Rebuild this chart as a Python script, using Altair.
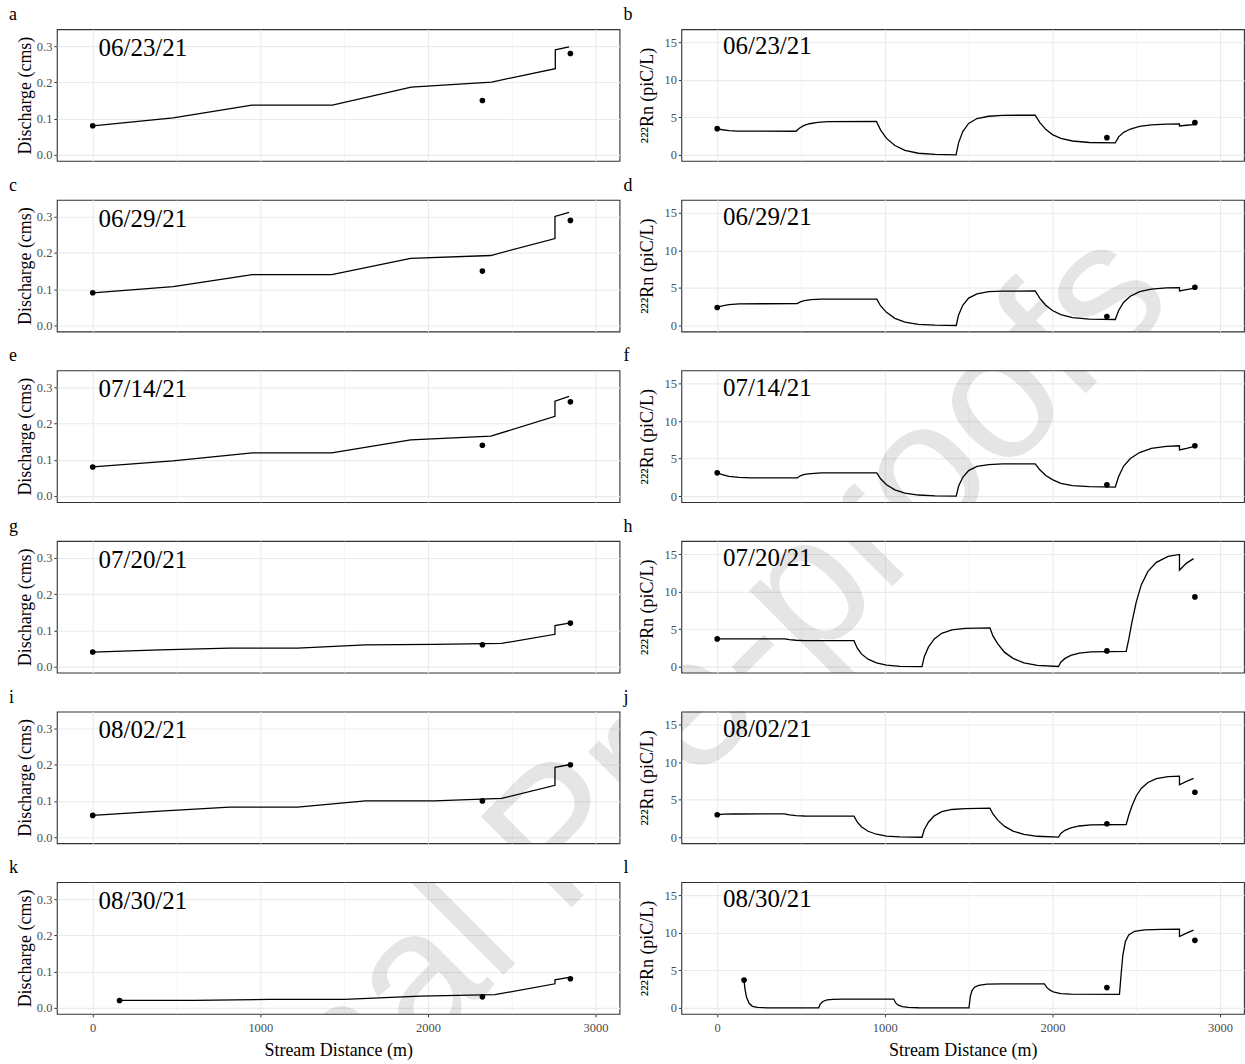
import altair as alt
import pandas as pd

FONT = "Liberation Serif"

dates = ["06/23/21", "06/29/21", "07/14/21", "07/20/21", "08/02/21", "08/30/21"]
q_letters = ["a", "c", "e", "g", "i", "k"]
rn_letters = ["b", "d", "f", "h", "j", "l"]
watermark = "Journal Pre-proofs"

# ---------------- Discharge: modelled line ----------------
q_x_a = [0, 480, 950, 1430, 1900, 2380, 2760, 2760, 2842]
q_y_a = [0.080, 0.102, 0.137, 0.137, 0.187, 0.201, 0.238, 0.290, 0.298]
q_x_c = [0, 480, 952, 1426, 1897, 2375, 2758, 2758, 2842]
q_y_c = [0.090, 0.107, 0.140, 0.140, 0.185, 0.193, 0.240, 0.301, 0.312]
q_x_e = [0, 478, 952, 1426, 1897, 2375, 2758, 2758, 2842]
q_y_e = [0.080, 0.097, 0.119, 0.119, 0.155, 0.165, 0.220, 0.262, 0.275]
q_x_g = [0, 402, 816, 1222, 1627, 2036, 2440, 2758, 2758, 2842]
q_y_g = [0.040, 0.046, 0.051, 0.051, 0.060, 0.061, 0.064, 0.089, 0.113, 0.120]
q_x_i = [0, 402, 816, 1222, 1627, 2036, 2440, 2758, 2758, 2842]
q_y_i = [0.060, 0.072, 0.083, 0.083, 0.100, 0.100, 0.107, 0.143, 0.193, 0.200]
q_x_k = [160, 605, 1053, 1502, 1952, 2400, 2758, 2758, 2842]
q_y_k = [0.020, 0.020, 0.023, 0.023, 0.032, 0.036, 0.066, 0.077, 0.084]

# ---------------- Discharge: observations ----------------
obs_x = [0, 2325, 2850]
obs_x_last = [160, 2325, 2850]
q_obs = [
    [0.08, 0.15, 0.28],
    [0.09, 0.15, 0.29],
    [0.08, 0.14, 0.26],
    [0.04, 0.06, 0.12],
    [0.06, 0.10, 0.20],
    [0.02, 0.03, 0.08],
]

# ---------------- Radon: modelled line ----------------
rn_x_b = [0, 30, 70, 120, 470, 490, 515, 550, 600, 660, 950, 975, 1010, 1060, 1120, 1200, 1300, 1425,
          1440, 1465, 1500, 1550, 1620, 1700, 1897, 1925, 1960, 2000, 2050, 2120, 2220, 2375,
          2395, 2425, 2465, 2520, 2590, 2680, 2758, 2758, 2800, 2842]
rn_y_b = [3.5, 3.35, 3.22, 3.17, 3.15, 3.55, 3.9, 4.15, 4.33, 4.42, 4.45, 3.3, 2.2, 1.25, 0.6, 0.22, 0.06, 0.0,
          1.6, 3.1, 4.2, 4.85, 5.15, 5.27, 5.3, 4.3, 3.4, 2.7, 2.2, 1.85, 1.65, 1.6,
          2.4, 3.0, 3.45, 3.8, 4.0, 4.1, 4.13, 3.85, 3.95, 4.02]
rn_x_d = [0, 30, 70, 130, 478, 495, 520, 560, 620, 952, 975, 1010, 1060, 1120, 1200, 1300, 1426,
          1440, 1465, 1500, 1550, 1620, 1700, 1897, 1925, 1960, 2000, 2050, 2120, 2220, 2375,
          2395, 2425, 2465, 2520, 2590, 2680, 2758, 2758, 2800, 2842]
rn_y_d = [2.45, 2.62, 2.78, 2.88, 2.92, 3.15, 3.32, 3.44, 3.5, 3.52, 2.6, 1.75, 0.95, 0.45, 0.15, 0.04, 0.0,
          1.4, 2.7, 3.65, 4.2, 4.5, 4.58, 4.6, 3.6, 2.7, 2.0, 1.45, 1.05, 0.85, 0.8,
          2.0, 3.1, 3.9, 4.5, 4.85, 5.0, 5.05, 4.6, 4.78, 4.95]
rn_x_f = [0, 30, 70, 130, 200, 478, 495, 520, 560, 620, 952, 975, 1010, 1060, 1120, 1200, 1300, 1426,
          1440, 1465, 1500, 1550, 1620, 1700, 1897, 1925, 1960, 2000, 2050, 2120, 2220, 2375,
          2395, 2425, 2465, 2520, 2590, 2680, 2758, 2758, 2800, 2842]
rn_y_f = [3.1, 2.85, 2.62, 2.48, 2.43, 2.42, 2.7, 2.88, 3.0, 3.08, 3.1, 2.3, 1.5, 0.82, 0.4, 0.14, 0.03, 0.0,
          1.3, 2.5, 3.4, 3.95, 4.2, 4.28, 4.3, 3.5, 2.75, 2.2, 1.7, 1.4, 1.25, 1.2,
          2.6, 4.0, 5.0, 5.8, 6.35, 6.62, 6.7, 6.15, 6.35, 6.6]
rn_x_h = [0, 402, 430, 470, 520, 816, 835, 860, 900, 950, 1010, 1090, 1222,
          1235, 1260, 1295, 1340, 1400, 1480, 1627, 1645, 1675, 1715, 1765, 1830, 1910, 2036,
          2050, 2075, 2110, 2160, 2230, 2440, 2455, 2475, 2500, 2530, 2570, 2620, 2690, 2758,
          2758, 2800, 2842]
rn_y_h = [3.7, 3.7, 3.6, 3.52, 3.48, 3.47, 2.5, 1.7, 1.0, 0.5, 0.2, 0.05, 0.0,
          1.3, 2.6, 3.7, 4.45, 4.9, 5.1, 5.17, 4.1, 3.0, 1.9, 1.1, 0.5, 0.18, 0.02,
          0.6, 1.1, 1.5, 1.8, 1.97, 2.03, 3.6, 6.0, 8.6, 10.9, 12.7, 13.9, 14.7, 14.95,
          12.85, 13.8, 14.4]
rn_x_j = [0, 40, 100, 402, 430, 470, 520, 816, 835, 860, 900, 950, 1010, 1090, 1222,
          1235, 1260, 1295, 1340, 1400, 1480, 1627, 1645, 1675, 1715, 1765, 1830, 1910, 2036,
          2050, 2075, 2110, 2160, 2230, 2440, 2455, 2475, 2500, 2530, 2570, 2620, 2690, 2758,
          2758, 2800, 2842]
rn_y_j = [3.0, 3.07, 3.1, 3.12, 2.98, 2.88, 2.83, 2.82, 2.05, 1.4, 0.8, 0.4, 0.15, 0.04, 0.0,
          1.0, 2.0, 2.85, 3.4, 3.7, 3.82, 3.87, 3.1, 2.25, 1.45, 0.82, 0.38, 0.13, 0.02,
          0.5, 0.92, 1.25, 1.5, 1.65, 1.7, 2.9, 4.2, 5.5, 6.5, 7.3, 7.8, 8.08, 8.15,
          7.0, 7.45, 7.85]
rn_x_l = [160, 165, 175, 190, 210, 240, 300, 605, 615, 630, 655, 690, 750, 1053,
          1065, 1080, 1105, 1140, 1200, 1502, 1510, 1520, 1535, 1560, 1610, 1700, 1952,
          1965, 1985, 2010, 2050, 2110, 2400, 2410, 2420, 2435, 2455, 2490, 2550, 2650, 2758,
          2758, 2800, 2842]
rn_y_l = [3.7, 2.6, 1.4, 0.6, 0.2, 0.05, 0.0, 0.0, 0.5, 0.85, 1.05, 1.14, 1.17, 1.17,
          0.65, 0.35, 0.15, 0.05, 0.01, 0.0, 1.5, 2.3, 2.75, 3.0, 3.15, 3.2, 3.2,
          2.75, 2.35, 2.08, 1.9, 1.82, 1.8, 4.5, 7.0, 8.8, 9.7, 10.2, 10.4, 10.47, 10.5,
          9.5, 9.95, 10.35]

# ---------------- Radon: observations ----------------
rn_obs = [
    [3.5, 2.3, 4.3],
    [2.4, 1.2, 5.1],
    [3.1, 1.5, 6.7],
    [3.7, 2.1, 9.3],
    [3.0, 1.8, 6.0],
    [3.7, 2.7, 9.0],
]

q_lines = [(q_x_a, q_y_a), (q_x_c, q_y_c), (q_x_e, q_y_e), (q_x_g, q_y_g), (q_x_i, q_y_i), (q_x_k, q_y_k)]
rn_lines = [(rn_x_b, rn_y_b), (rn_x_d, rn_y_d), (rn_x_f, rn_y_f), (rn_x_h, rn_y_h), (rn_x_j, rn_y_j), (rn_x_l, rn_y_l)]

X_DOM = [-214, 3143]
Q_DOM = [-0.017, 0.347]
RN_DOM = [-0.8, 16.75]
X_TICKS = [0, 500, 1000, 1500, 2000, 2500, 3000]
Q_TICKS = [0, 0.05, 0.1, 0.15, 0.2, 0.25, 0.3]
RN_TICKS = [0, 2.5, 5, 7.5, 10, 12.5, 15]

# layout (pixels)
W, H = 564, 132
COL_GAP, ROW_GAP = 62, 39
LEFT0, TOP0 = 56, 30
WM_CX, WM_CY = 595, 808   # watermark centre on the page
MAJ_GRID, MIN_GRID = 1.1, 0.55


def cond(test, yes, no):
    return {"condition": {"test": test, "value": yes}, "value": no}


def x_axis(bottom):
    t = "datum.value % 1000 == 0"
    return alt.Axis(
        values=X_TICKS,
        format="d",
        labelExpr="datum.value % 1000 == 0 ? datum.label : ''",
        labels=bottom,
        ticks=bottom,
        labelPadding=5,
        titlePadding=7,
        tickOpacity=cond(t, 1, 0),
        gridWidth=cond(t, MAJ_GRID, MIN_GRID),
        title="Stream Distance (m)" if bottom else None,
    )


def panel(kind, k):
    bottom = k == 5
    col = 0 if kind == "q" else 1
    if kind == "q":
        lx, ly = q_lines[k]
        oy = q_obs[k]
        ydom, yticks = Q_DOM, Q_TICKS
        test = "abs(datum.value * 10 - round(datum.value * 10)) < 0.001"
        yaxis = alt.Axis(values=yticks, format=".1f", labelPadding=2,
                         labelExpr="abs(datum.value * 10 - round(datum.value * 10)) < 0.001 ? datum.label : ''",
                         tickOpacity=cond(test, 1, 0), gridWidth=cond(test, MAJ_GRID, MIN_GRID),
                         title="Discharge (cms)", titleX=-22)
        letter = q_letters[k]
        ty = 0.295
        tdx = -8
    else:
        lx, ly = rn_lines[k]
        oy = rn_obs[k]
        ydom, yticks = RN_DOM, RN_TICKS
        test = "datum.value % 5 == 0"
        yaxis = alt.Axis(values=yticks, format="d", labelPadding=2,
                         labelExpr="datum.value % 5 == 0 ? datum.label : ''",
                         tickOpacity=cond(test, 1, 0), gridWidth=cond(test, MAJ_GRID, MIN_GRID),
                         title="²²²Rn (piC/L)", titleX=-25)
        letter = rn_letters[k]
        ty = 14.45
        tdx = -15
    ox = obs_x_last if k == 5 else obs_x

    xs = alt.Scale(domain=X_DOM, nice=False, zero=False)
    ys = alt.Scale(domain=ydom, nice=False, zero=False)

    line_df = pd.DataFrame({"x": lx, "y": ly, "i": list(range(len(lx)))})
    obs_df = pd.DataFrame({"x": ox, "y": oy})
    txt_df = pd.DataFrame({"x": [35], "y": [ty], "t": [dates[k]]})
    wm_df = pd.DataFrame({"t": [watermark]})

    # watermark: one page-wide text, shown through each panel (clipped to the panel)
    px = LEFT0 + col * (W + COL_GAP)
    py = TOP0 + k * (H + ROW_GAP)
    wm = alt.Chart(wm_df).mark_text(
        align="center", baseline="middle", angle=315, font="Liberation Sans", fontSize=187,
        color="black", opacity=0.1, clip=True,
    ).encode(x=alt.value(WM_CX - px), y=alt.value(WM_CY - py), text="t:N")

    line = alt.Chart(line_df).mark_line(color="black", strokeWidth=1.3).encode(
        x=alt.X("x:Q", scale=xs, axis=x_axis(bottom)),
        y=alt.Y("y:Q", scale=ys, axis=yaxis),
        order="i:Q",
    )
    pts = alt.Chart(obs_df).mark_circle(color="black", size=32, opacity=1).encode(
        x=alt.X("x:Q", scale=xs), y=alt.Y("y:Q", scale=ys)
    )
    txt = alt.Chart(txt_df).mark_text(align="left", baseline="middle", fontSize=25, font=FONT,
                                      color="black").encode(
        x=alt.X("x:Q", scale=xs), y=alt.Y("y:Q", scale=ys), text="t:N"
    )
    return alt.layer(line, pts, txt, wm).properties(
        width=W, height=H,
        title=alt.TitleParams(text=letter, anchor="start", frame="bounds", fontSize=18, font=FONT,
                              fontWeight="normal", color="black", dx=tdx, offset=5),
    )


panels = []
for k in range(6):
    panels.append(panel("q", k))
    panels.append(panel("rn", k))

chart = alt.concat(*panels, columns=2, spacing={"row": ROW_GAP, "column": COL_GAP}, bounds="flush").properties(
    padding={"left": 8, "top": 4, "right": 0, "bottom": 0},
    background="white",
).configure_view(
    stroke="#333333", strokeWidth=1.1
).configure_axis(
    domain=False,
    labelFont=FONT, labelFontSize=12.5, labelColor="#4D4D4D", labelPadding=3,
    titleFont=FONT, titleFontSize=18, titleColor="black", titleFontWeight="normal", titlePadding=3,
    tickColor="#333333", tickSize=3,
    gridColor="#EBEBEB",
).configure_title(font=FONT)

chart.save("out.html", embed_options={"renderer": "svg", "actions": False})
